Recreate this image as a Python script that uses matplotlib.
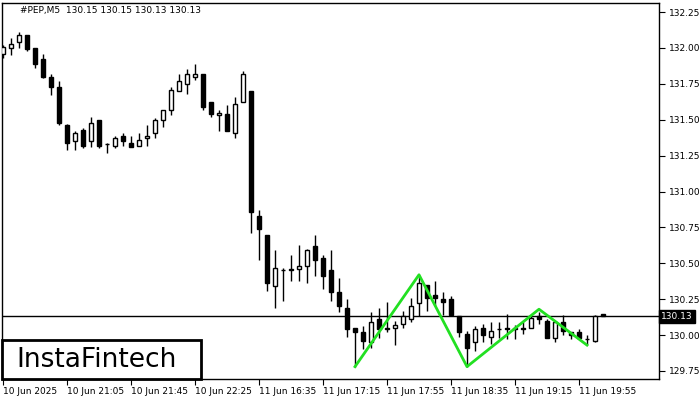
import matplotlib
matplotlib.use('Agg')
import matplotlib.pyplot as plt
from matplotlib.patches import Rectangle

# PEP M5 candles
opens = [131.96, 132.00, 132.04, 132.09, 132.00, 131.92, 131.80, 131.73, 131.46, 131.35,
         131.43, 131.35, 131.50, 131.33, 131.32, 131.39, 131.34, 131.32, 131.37, 131.41,
         131.50, 131.57, 131.70, 131.75, 131.80, 131.82, 131.62, 131.53, 131.54, 131.41,
         131.62, 131.70, 130.83, 130.70, 130.34, 130.45, 130.46, 130.46, 130.48, 130.62,
         130.54, 130.45, 130.30, 130.19, 130.05, 130.02, 129.95, 130.11, 130.05, 130.05,
         130.08, 130.11, 130.22, 130.35, 130.28, 130.25, 130.25, 130.13, 130.01, 129.95,
         130.05, 129.99, 130.04, 130.05, 130.04, 130.05, 130.05, 130.13, 130.10, 129.98,
         130.09, 130.02, 130.02, 129.97, 129.96, 130.15]
highs = [132.02, 132.07, 132.11, 132.09, 132.00, 131.96, 131.82, 131.77, 131.47, 131.42,
         131.44, 131.52, 131.50, 131.34, 131.39, 131.41, 131.39, 131.41, 131.46, 131.51,
         131.57, 131.73, 131.82, 131.85, 131.89, 131.82, 131.62, 131.57, 131.60, 131.66,
         131.84, 131.70, 130.87, 130.70, 130.59, 130.47, 130.56, 130.63, 130.60, 130.70,
         130.56, 130.59, 130.40, 130.25, 130.05, 130.06, 130.16, 130.19, 130.23, 130.10,
         130.17, 130.26, 130.42, 130.35, 130.38, 130.30, 130.27, 130.13, 130.03, 130.06,
         130.08, 130.09, 130.09, 130.15, 130.07, 130.09, 130.13, 130.16, 130.11, 130.10,
         130.14, 130.02, 130.04, 130.00, 130.14, 130.15]
lows = [131.93, 131.95, 132.00, 131.98, 131.86, 131.79, 131.67, 131.46, 131.29, 131.29,
        131.30, 131.31, 131.30, 131.27, 131.30, 131.32, 131.31, 131.32, 131.32, 131.37,
        131.45, 131.53, 131.70, 131.68, 131.78, 131.57, 131.52, 131.42, 131.42, 131.37,
        131.62, 130.71, 130.52, 130.31, 130.19, 130.24, 130.38, 130.38, 130.36, 130.41,
        130.32, 130.24, 130.16, 129.99, 129.78, 129.90, 129.91, 129.98, 130.02, 129.93,
        130.05, 130.09, 130.13, 130.17, 130.20, 130.14, 130.13, 129.99, 129.78, 129.89,
        129.95, 129.94, 129.98, 129.97, 129.97, 130.01, 130.05, 130.08, 129.98, 129.95,
        130.00, 129.97, 129.97, 129.93, 129.95, 130.13]
closes = [132.01, 132.03, 132.09, 131.99, 131.89, 131.80, 131.73, 131.48, 131.34, 131.41,
          131.32, 131.48, 131.32, 131.33, 131.37, 131.35, 131.31, 131.36, 131.39, 131.50,
          131.57, 131.71, 131.77, 131.82, 131.82, 131.59, 131.54, 131.55, 131.42, 131.61,
          131.82, 130.86, 130.74, 130.36, 130.47, 130.45, 130.45, 130.48, 130.59, 130.52,
          130.41, 130.30, 130.20, 130.04, 130.02, 129.96, 130.09, 130.04, 130.04, 130.07,
          130.13, 130.20, 130.36, 130.26, 130.26, 130.23, 130.14, 130.02, 129.91, 130.04,
          130.00, 130.03, 130.04, 130.04, 130.05, 130.04, 130.12, 130.11, 129.98, 130.09,
          130.03, 130.00, 129.98, 129.97, 130.13, 130.13]

tick_idx = [0, 8, 16, 24, 32, 40, 48, 56, 64, 72]
tick_labels = ['10 Jun 2025', '10 Jun 21:05', '10 Jun 21:45', '10 Jun 22:25', '11 Jun 16:35',
               '11 Jun 17:15', '11 Jun 17:55', '11 Jun 18:35', '11 Jun 19:15', '11 Jun 19:55']
price_ticks = [129.75, 130.00, 130.25, 130.50, 130.75, 131.00, 131.25, 131.50, 131.75, 132.00, 132.25]

# pattern (triple bottom) vertices
pattern_idx = [44, 52, 58, 67, 73]
pattern_px = [129.78, 130.42, 129.78, 130.18, 129.93]

last_price = 130.13

fig = plt.figure(figsize=(7, 4), dpi=100)
ax = fig.add_axes([2/700, 21/400, 657/700, 376/400])
ax.set_xlim(-0.125, 82.0)
ax.set_ylim(129.694, 132.313)

w = 0.6
for i in range(len(opens)):
    o, h, l, c = opens[i], highs[i], lows[i], closes[i]
    top, bot = max(o, c), min(o, c)
    ax.vlines(i, l, h, color='black', lw=1, zorder=2)
    if top - bot < 0.005:
        ax.hlines(o, i - w/2, i + w/2, color='black', lw=1, zorder=3)
    else:
        fc = 'white' if c > o else 'black'
        ax.bar(i, top - bot, w, bottom=bot, facecolor=fc, edgecolor='black', lw=1, zorder=3)

ax.plot(pattern_idx, pattern_px, color='#22e022', lw=2, zorder=4)
ax.axhline(last_price, color='black', lw=1, zorder=1)

ax.yaxis.tick_right()
ax.set_yticks(price_ticks)
ax.set_yticklabels(['%.2f' % p for p in price_ticks])
ax.set_xticks(tick_idx)
ax.set_xticklabels(tick_labels, ha='left')
ax.tick_params(axis='both', labelsize=6.5, length=4, width=0.8, colors='black', pad=1.5)
ax.tick_params(axis='y', pad=3)
for s in ax.spines.values():
    s.set_linewidth(1)

# current price tag on the right axis
ax.text(1.003, last_price, '%.2f' % last_price, transform=ax.get_yaxis_transform(),
        ha='left', va='center', fontsize=6.5, color='white',
        bbox=dict(boxstyle='square,pad=0.25', facecolor='black', edgecolor='black'))

ax.text(18/657, 1 - 8/376, '#PEP,M5  130.15 130.15 130.13 130.13', transform=ax.transAxes,
        ha='left', va='center', fontsize=6.5)

# logo box
fig.patches.append(Rectangle((2/700, 21/400), 199/700, 39/400, transform=fig.transFigure,
                             facecolor='white', edgecolor='black', lw=2, zorder=5))
fig.text(97/700, 40/400, 'InstaFintech', ha='center', va='center', fontsize=19,
         color='black', zorder=6)

fig.savefig('out.png', dpi=100)
